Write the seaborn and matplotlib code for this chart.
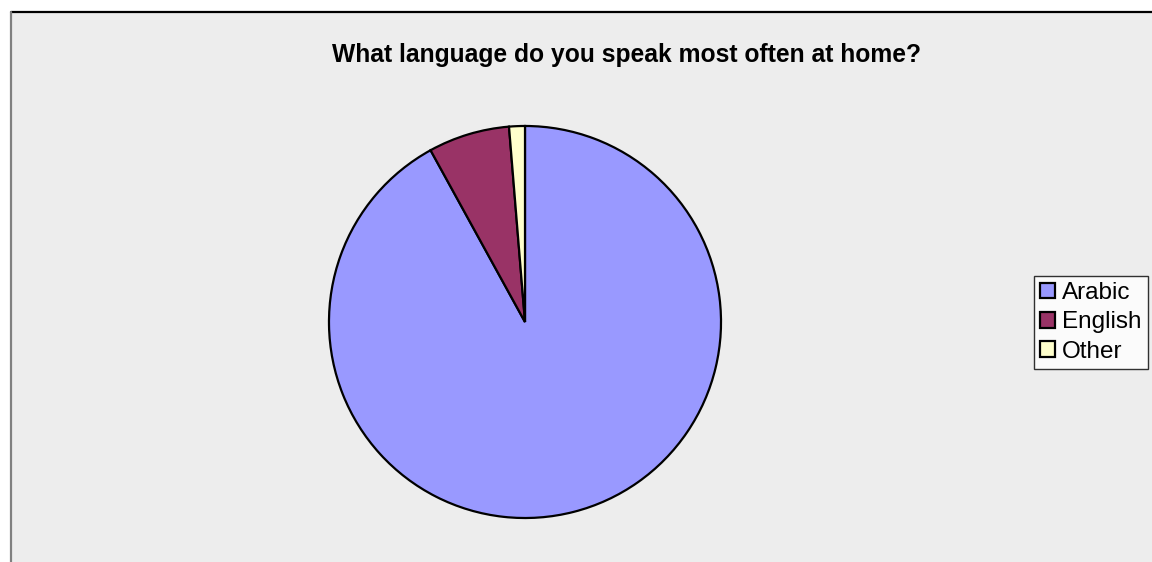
import matplotlib
matplotlib.use("Agg")
import matplotlib.pyplot as plt
from matplotlib.patches import Rectangle, Patch
import seaborn as sns

sns.set_theme(style="white")
plt.rcParams["font.family"] = ["Liberation Sans", "DejaVu Sans"]

# Survey responses
languages = ["Arabic", "English", "Other"]
shares = [92.0, 6.7, 1.3]
slice_colors = ["#9999FF", "#993366", "#FFFFCC"]
title_text = "What language do you speak most often at home?"

W, H = 1152, 562
fig = plt.figure(figsize=(W / 100, H / 100), dpi=100)
fig.patch.set_facecolor("white")

# Chart area panel
left_px, top_px = 11, 12
panel = Rectangle((left_px / W, 0), 1 - left_px / W, 1 - top_px / H,
                  transform=fig.transFigure, facecolor="#EDEDED",
                  edgecolor="none", zorder=-10)
fig.patches.append(panel)
fig.add_artist(plt.Line2D([left_px / W, 1], [1 - top_px / H] * 2,
                          transform=fig.transFigure, color="black", lw=1.6,
                          zorder=-5))
fig.add_artist(plt.Line2D([left_px / W] * 2, [0, 1 - top_px / H],
                          transform=fig.transFigure, color="#808080", lw=1.6,
                          zorder=-5))

# Pie axes
cx, cy, r = 525, 322, 197
ax = fig.add_axes([(cx - r) / W, (H - cy - r) / H, 2 * r / W, 2 * r / H])
ax.set_zorder(1)
ax.patch.set_visible(False)
palette = sns.color_palette(slice_colors)
ax.pie(shares, colors=palette, startangle=90, counterclock=False, radius=0.995,
       wedgeprops=dict(edgecolor="black", linewidth=1.6))
ax.set_xlim(-1, 1)
ax.set_ylim(-1, 1)
ax.set_aspect("auto")
ax.axis("off")

fig.text(626 / W, 1 - 55 / H, title_text, ha="center", va="center",
         fontsize=17.75, fontweight="bold", color="black")

handles = [Patch(facecolor=c, edgecolor="black", linewidth=1.6) for c in palette]
leg = fig.legend(handles, languages, loc="upper left",
                 bbox_to_anchor=(1034 / W, 1 - 276 / H),
                 frameon=True, fancybox=False, fontsize=17.5,
                 handlelength=0.6, handleheight=0.6, handletextpad=0.3,
                 borderpad=0.25, labelspacing=0.3, borderaxespad=0)
for t in leg.get_texts():
    t.set_color("black")
leg.get_frame().set_edgecolor("black")
leg.get_frame().set_facecolor("white")
leg.get_frame().set_linewidth(1.0)

fig.savefig("out.png", dpi=100)
